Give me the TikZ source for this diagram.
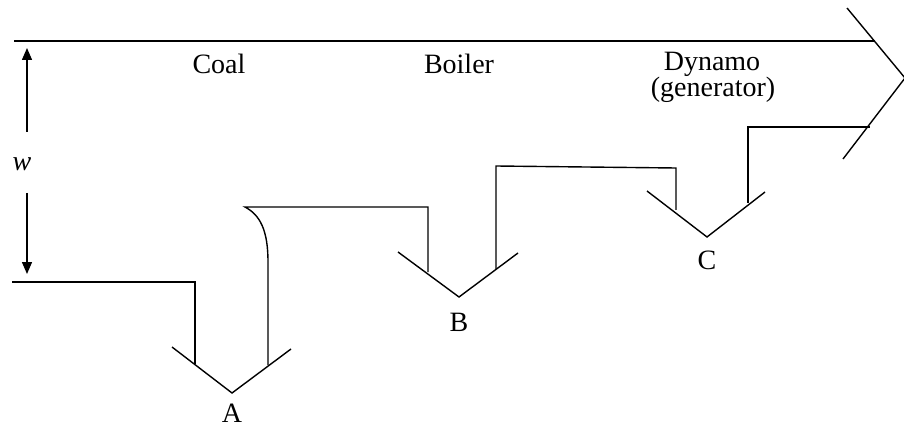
\documentclass[tikz,border=0pt]{standalone}
\usepackage{fontspec}
\setmainfont{Liberation Serif}
\usetikzlibrary{arrows.meta}
\begin{document}
\begin{tikzpicture}[x=1pt,y=-1pt,
  flow/.style={line width=1.4pt,line join=miter},
  lbl/.style={font=\fontsize{28}{32}\selectfont,inner sep=0pt},
  dim/.style={line width=1.4pt,-{Triangle[length=12pt,width=10pt]}}]
\useasboundingbox (0,0) rectangle (904,430);
% main band
\draw[flow] (14,41) -- (875,41);
\draw[flow] (847,8) -- (905,78) -- (843,159);
\draw[flow] (12,282) -- (195,282) -- (195,364);
% loss A
\draw[flow] (172,347) -- (232,393) -- (291,349);
\draw[flow] (268,365) -- (268,262) .. controls (268,230) and (260,215) .. (245,207) -- (428,207) -- (428,272);
% loss B
\draw[flow] (398,252) -- (459,297) -- (518,253);
\draw[flow] (496,269) -- (496,166) -- (676,168) -- (676,210);
% loss C
\draw[flow] (647,191) -- (707,237) -- (765,192);
\draw[flow] (748,203) -- (748,127) -- (870,127);
% labels
\node[lbl] (coal) at (219,64) {Coal};
\node[lbl] (boiler) at (459,64) {Boiler};
\node[lbl] (dyn) at (712,64) {Dynamo};
\node[lbl] (gen) at (713,90) {(generator)};
\node[lbl] (A) at (232,413) {A};
\node[lbl] (B) at (459,322) {B};
\node[lbl] (C) at (707,260) {C};
\node[lbl] (w) at (22,164) {\textit{w}};
\coordinate (wt) at (27,48);
\coordinate (wb) at (27,274);
\draw[dim] (27,132) -- (wt);
\draw[dim] (27,193) -- (wb);
\end{tikzpicture}
\end{document}
